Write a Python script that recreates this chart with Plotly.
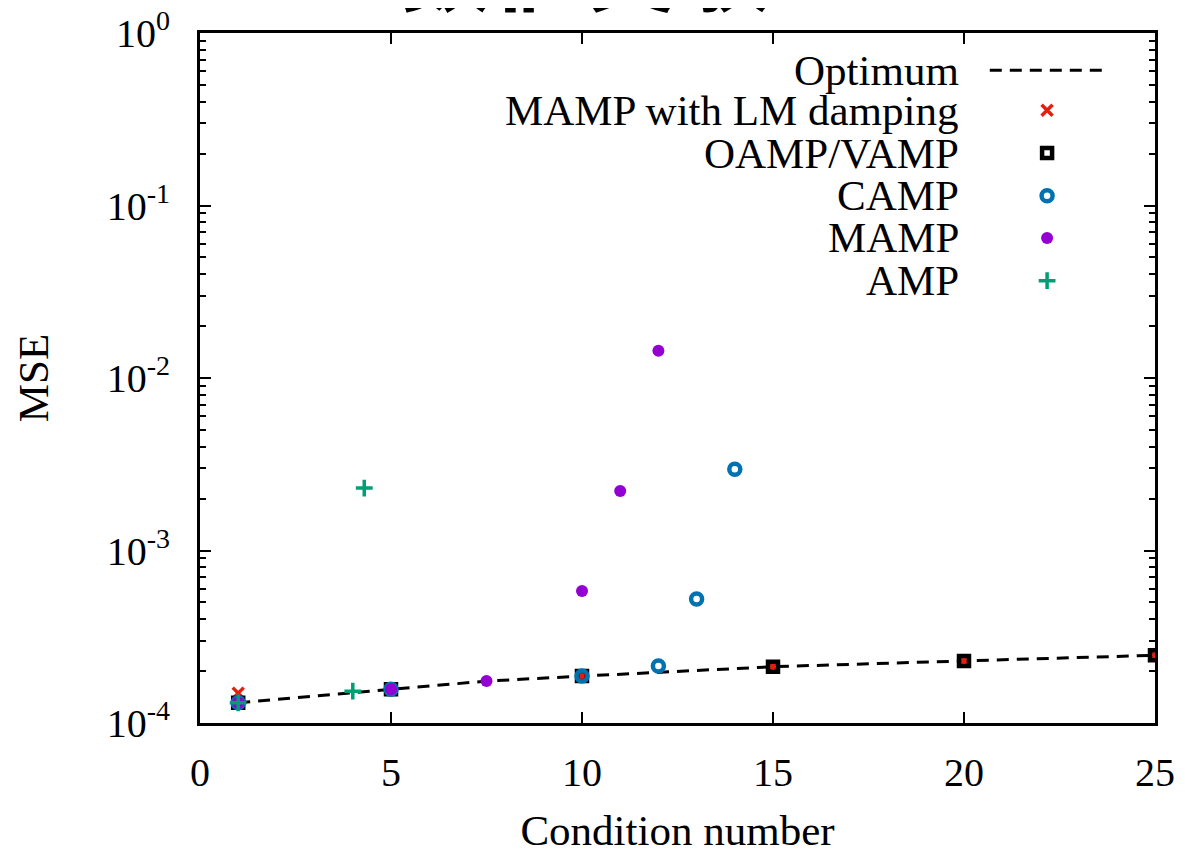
import plotly.graph_objects as go

# ---------------- data ----------------
opt_x = [1, 5, 7.5, 10, 12, 15, 20, 25]
opt_y = [1.31e-4, 1.57e-4, 1.75e-4, 1.87e-4, 1.97e-4, 2.12e-4, 2.29e-4, 2.47e-4]

lm_x = [1, 5, 10, 15, 20, 25]
lm_y = [1.49e-4, 1.57e-4, 1.87e-4, 2.12e-4, 2.29e-4, 2.47e-4]

oamp_x = [1, 5, 10, 15, 20, 25]
oamp_y = [1.31e-4, 1.57e-4, 1.87e-4, 2.12e-4, 2.29e-4, 2.47e-4]

camp_x = [1, 5, 10, 12, 13, 14]
camp_y = [1.31e-4, 1.57e-4, 1.87e-4, 2.14e-4, 5.24e-4, 2.96e-3]

mamp_x = [1, 5, 7.5, 10, 11, 12]
mamp_y = [1.31e-4, 1.57e-4, 1.75e-4, 5.82e-4, 2.21e-3, 1.44e-2]

amp_x = [1, 4, 4.3]
amp_y = [1.31e-4, 1.53e-4, 2.30e-3]

legend_labels = ["Optimum", "MAMP with LM damping", "OAMP/VAMP", "CAMP", "MAMP", "AMP"]

x_ticks = [0, 5, 10, 15, 20, 25]
y_tick_exps = [-4, -3, -2, -1, 0]

title_text = "数値実験"

# ---------------- styles ----------------
RED = "#e51e10"
BLACK = "#000000"
BLUE = "#0072b2"
PURPLE = "#9400d3"
GREEN = "#009e73"
FONT = "Liberation Serif"
DASH = "12px,8px"

styles = [
    dict(symbol="x-thin", size=11, line=dict(color=RED, width=3.5), color=RED),
    dict(symbol="square-open", size=10, line=dict(color=BLACK, width=4.5), color=BLACK),
    dict(symbol="circle-open", size=11, line=dict(color=BLUE, width=4.5), color=BLUE),
    dict(symbol="circle", size=12, color=PURPLE, line=dict(width=0)),
    dict(symbol="cross-thin", size=12, line=dict(color=GREEN, width=3.5), color=GREEN),
]

fig = go.Figure()

fig.add_trace(go.Scatter(x=opt_x, y=opt_y, mode="lines",
                         line=dict(color=BLACK, width=3, dash=DASH),
                         showlegend=False))

series = [(lm_x, lm_y), (oamp_x, oamp_y), (camp_x, camp_y), (mamp_x, mamp_y), (amp_x, amp_y)]
for i, (sx, sy) in enumerate(series):
    fig.add_trace(go.Scatter(x=sx, y=sy, mode="markers", marker=styles[i], showlegend=False))

# ---------------- manual legend (text right, sample left) ----------------
row_y = [0.946, 0.888, 0.826, 0.764, 0.703, 0.641]
text_x = 0.797
sym_x = 0.887
fig.add_trace(go.Scatter(x=[0.827, 0.948], y=[row_y[0], row_y[0]], mode="lines",
                         line=dict(color=BLACK, width=3, dash=DASH),
                         xaxis="x2", yaxis="y2", showlegend=False))
for i in range(5):
    fig.add_trace(go.Scatter(x=[sym_x], y=[row_y[i + 1]], mode="markers",
                             marker=styles[i], xaxis="x2", yaxis="y2", showlegend=False))
for lab, yy in zip(legend_labels, row_y):
    fig.add_annotation(x=text_x, y=yy, xref="paper", yref="paper", text=lab,
                       showarrow=False, xanchor="right", yanchor="middle",
                       font=dict(family=FONT, size=43, color=BLACK))

# cut-off title at top
fig.add_annotation(x=0.403, y=1.0, xref="paper", yref="paper", text="<b>" + title_text + "</b>",
                   showarrow=False, xanchor="center", yanchor="bottom", yshift=0,
                   font=dict(family="Noto Sans CJK JP", size=93, color=BLACK))

axis_common = dict(showline=True, linecolor=BLACK, linewidth=3, mirror="allticks",
                   ticks="inside", tickcolor=BLACK, tickwidth=2, ticklen=11,
                   showgrid=False, zeroline=False, automargin=False,
                   ticklabeloverflow="allow",
                   tickfont=dict(family=FONT, size=40, color=BLACK))

fig.update_layout(
    width=1185, height=851,
    margin=dict(l=192, r=38, t=25, b=136),
    paper_bgcolor="white", plot_bgcolor="white",
    xaxis=dict(range=[0, 25], tickvals=x_ticks, ticktext=[str(v) for v in x_ticks],
               ticklabelstandoff=12,
               title=dict(text="Condition number", font=dict(family=FONT, size=43, color=BLACK),
                          standoff=21),
               **axis_common),
    yaxis=dict(type="log", range=[-4, 0],
               tickvals=[10.0 ** e for e in y_tick_exps],
               ticktext=["10<sup>%d</sup>" % e for e in y_tick_exps],
               ticklabelstandoff=19,
               minor=dict(ticks="inside", ticklen=6, tickwidth=2, tickcolor=BLACK,
                          dtick="D1", showgrid=False),
               title=dict(text="MSE", font=dict(family=FONT, size=43, color=BLACK), standoff=45),
               **axis_common),
    xaxis2=dict(range=[0, 1], overlaying="x", visible=False, anchor="y2"),
    yaxis2=dict(range=[0, 1], overlaying="y", visible=False, anchor="x2"),
)

fig.write_html("out.html")
